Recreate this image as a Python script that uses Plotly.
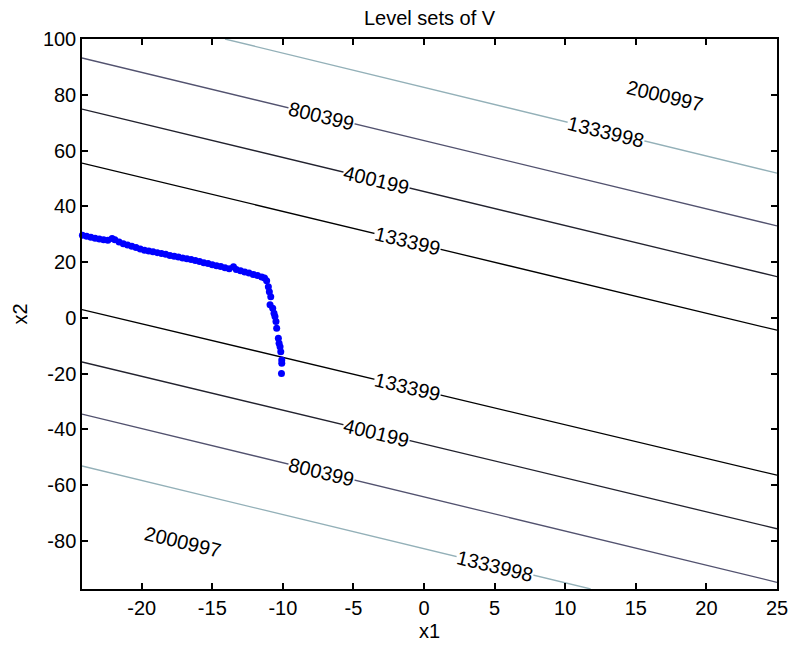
import numpy as np
import plotly.graph_objects as go

# ---- data -------------------------------------------------------------
# contour levels of V and their colours (bone colormap, low -> high)
levels = [133399, 400199, 800399, 1333998, 2000997]
level_colors = ["#000000", "#22222e", "#52526f", "#93b0b8", "#ffffff"]

# level-set segments above the valley (start/end vertices)
upper_x = [[-24.23, 25.0], [-24.23, 25.0], [-24.23, 25.0], [-14.1, 25.0], [1.2, 25.0]]
upper_y = [[55.5, -4.4], [74.9, 14.8], [93.2, 33.0], [100.0, 51.9], [99.0, 70.0]]

# level-set segments below the valley
lower_x = [[-24.23, 25.0], [-24.23, 25.0], [-24.23, 25.0], [-24.23, 11.8], [-24.23, -3.1]]
lower_y = [[3.0, -56.4], [-15.8, -75.6], [-34.5, -94.8], [-53.1, -97.2], [-71.5, -97.2]]

# where the inline level labels sit along each segment (x1 position)
upper_label_x1 = [-1.15, -3.38, -7.28, 12.9, 17.1]
lower_label_x1 = [-1.15, -3.35, -7.28, 5.0, -17.07]

# state trajectory
traj_x1 = [-10.1, -10.08, -10.08, -10.15, -10.2, -10.27, -10.32, -10.44, -10.49,
           -10.56, -10.63, -10.72, -10.91, -10.86, -10.96, -11.03, -11.15,
           -11.3, -11.5, -11.8, -12.1, -12.4, -12.7, -13.0, -13.3, -13.5,
           -13.8, -14.1, -14.4, -14.7, -15.0, -15.3, -15.6, -15.9, -16.2,
           -16.5, -16.8, -17.1, -17.4, -17.7, -18.0, -18.3, -18.6, -18.9,
           -19.2, -19.5, -19.8, -20.1, -20.4, -20.7, -21.0, -21.3, -21.6,
           -21.9, -22.1, -22.4, -22.7, -23.0, -23.3, -23.6, -23.9, -24.2]
traj_x2 = [-19.9, -16.3, -15.1, -12.1, -10.3, -9.1, -7.3, -3.7, -1.3,
           0.5, 1.7, 3.5, 4.7, 7.6, 9.4, 11.2, 13.3,
           14.3, 14.7, 15.2, 15.6, 16.1, 16.5, 16.9, 17.4, 18.3,
           17.6, 18.0, 18.4, 18.7, 19.1, 19.5, 19.8, 20.2, 20.6,
           20.9, 21.2, 21.5, 21.8, 22.1, 22.4, 22.8, 23.1, 23.4,
           23.7, 24.0, 24.3, 24.7, 25.2, 25.7, 26.1, 26.6, 27.2,
           28.0, 28.5, 27.8, 28.0, 28.3, 28.6, 28.9, 29.3, 29.6]

x_range = [-24.23, 25.0]
y_range = [-97.2, 100.0]
x_ticks = [-20, -15, -10, -5, 0, 5, 10, 15, 20, 25]
y_ticks = [-80, -60, -40, -20, 0, 20, 40, 60, 80, 100]

# ---- figure -----------------------------------------------------------
W, H = 791, 649
margin = dict(l=82, r=14, t=39, b=60)
FONT = "Liberation Sans, Arial, Helvetica, sans-serif"

fig = go.Figure()

for i, lev in enumerate(levels):
    xs = upper_x[i] + [None] + lower_x[i]
    ys = upper_y[i] + [None] + lower_y[i]
    fig.add_trace(go.Scatter(
        x=xs, y=ys, mode="lines", name=str(lev),
        line=dict(color=level_colors[i], width=1.3),
        hoverinfo="skip", showlegend=False))

fig.add_trace(go.Scatter(
    x=traj_x1, y=traj_x2, mode="markers", name="trajectory",
    marker=dict(color="#0000ff", size=7, line=dict(width=0)),
    cliponaxis=False, showlegend=False))

# screen angle of the level lines, for the rotated inline labels
plot_w = W - margin["l"] - margin["r"]
plot_h = H - margin["t"] - margin["b"]
px_per_x = plot_w / (x_range[1] - x_range[0])
px_per_y = plot_h / (y_range[1] - y_range[0])


def add_labels(seg_x, seg_y, label_x):
    for i, lev in enumerate(levels):
        x0, x1 = seg_x[i]
        y0, y1 = seg_y[i]
        slope = (y1 - y0) / (x1 - x0)
        ly = float(np.interp(label_x[i], [x0, x1], [y0, y1]))
        angle = np.degrees(np.arctan(-slope * px_per_y / px_per_x))
        fig.add_annotation(
            x=label_x[i], y=ly, xref="x", yref="y", text=str(lev),
            showarrow=False, textangle=angle, bgcolor="white", borderpad=0,
            font=dict(family=FONT, size=20, color="black"),
            xanchor="center", yanchor="middle")


add_labels(upper_x, upper_y, upper_label_x1)
add_labels(lower_x, lower_y, lower_label_x1)

axis_common = dict(
    showline=True, linecolor="black", linewidth=1.5, mirror="ticks",
    ticks="inside", ticklen=6, tickwidth=1.5, tickcolor="black",
    showgrid=False, zeroline=False, automargin=False,
    tickfont=dict(family=FONT, size=20, color="black"),
)

fig.update_xaxes(range=x_range, tickvals=x_ticks, ticktext=[str(v) for v in x_ticks],
                 title=dict(text="x1", font=dict(family=FONT, size=20, color="black"), standoff=6),
                 **axis_common)
fig.update_yaxes(range=y_range, tickvals=y_ticks, ticktext=[str(v) for v in y_ticks],
                 title=dict(text="x2", font=dict(family=FONT, size=20, color="black"), standoff=10),
                 **axis_common)

fig.update_layout(
    width=W, height=H, margin=margin,
    paper_bgcolor="white", plot_bgcolor="white",
    title=dict(text="Level sets of V", x=0.5, xref="paper", xanchor="center",
               y=1 - 18 / H, yref="container", yanchor="middle",
               font=dict(family=FONT, size=20, color="black")),
    showlegend=False,
)

fig.write_html("out.html")
